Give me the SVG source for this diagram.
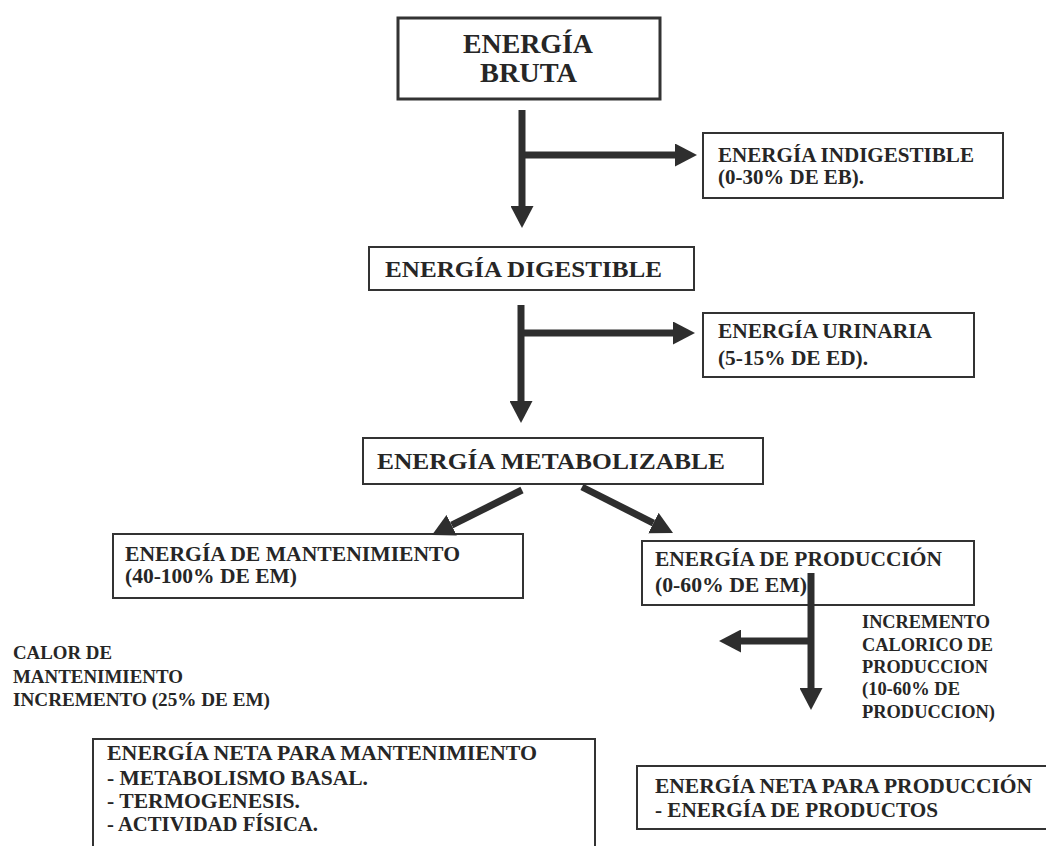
<svg xmlns="http://www.w3.org/2000/svg" width="1046" height="846" viewBox="0 0 1046 846">
<defs>
<style>
.box{fill:#fff;stroke:#333;stroke-width:2}
.tb{font-family:"Liberation Serif","DejaVu Serif","Times New Roman",serif;font-weight:bold;fill:#262626}
.t28{font-size:28px}
.t24{font-size:24px}
.t21{font-size:21px}
.t19{font-size:19px}
.conn line{stroke:#2e2e2e;stroke-width:7;fill:none}
</style>
<marker id="ah" markerUnits="userSpaceOnUse" viewBox="0 0 22 23" markerWidth="22" markerHeight="23" refX="0" refY="11.5" orient="auto">
<path d="M0,0 L22,11.5 L0,23 Z" fill="#2e2e2e"/>
</marker>
</defs>
<rect width="1046" height="846" fill="#ffffff"/>

<g id="energia-bruta" font-family="Liberation Serif, DejaVu Serif, serif">
<rect class="box" x="398" y="18" width="262" height="81" style="stroke-width:3"/>
<text class="tb t28" x="463" y="53" textLength="130" lengthAdjust="spacingAndGlyphs">ENERGÍA</text>
<text class="tb t28" x="480" y="82" textLength="97" lengthAdjust="spacingAndGlyphs">BRUTA</text>
</g>

<g id="energia-indigestible" font-family="Liberation Serif, DejaVu Serif, serif">
<rect class="box" x="703" y="133" width="300" height="65"/>
<text class="tb t21" x="718" y="162" textLength="256" lengthAdjust="spacingAndGlyphs">ENERGÍA INDIGESTIBLE</text>
<text class="tb t21" x="718" y="184" textLength="146" lengthAdjust="spacingAndGlyphs">(0-30% DE EB).</text>
</g>

<g id="energia-digestible" font-family="Liberation Serif, DejaVu Serif, serif">
<rect class="box" x="369" y="247" width="325" height="43"/>
<text class="tb t24" x="385" y="277" textLength="277" lengthAdjust="spacingAndGlyphs">ENERGÍA DIGESTIBLE</text>
</g>

<g id="energia-urinaria" font-family="Liberation Serif, DejaVu Serif, serif">
<rect class="box" x="703" y="313" width="271" height="64"/>
<text class="tb t21" x="718" y="338" textLength="214" lengthAdjust="spacingAndGlyphs">ENERGÍA URINARIA</text>
<text class="tb t21" x="718" y="365" textLength="150" lengthAdjust="spacingAndGlyphs">(5-15% DE ED).</text>
</g>

<g id="energia-metabolizable" font-family="Liberation Serif, DejaVu Serif, serif">
<rect class="box" x="363" y="438" width="400" height="46"/>
<text class="tb t24" x="377" y="469" textLength="348" lengthAdjust="spacingAndGlyphs">ENERGÍA METABOLIZABLE</text>
</g>

<g id="energia-mantenimiento" font-family="Liberation Serif, DejaVu Serif, serif">
<rect class="box" x="113" y="534" width="410" height="64"/>
<text class="tb t21" x="125" y="561" textLength="335" lengthAdjust="spacingAndGlyphs">ENERGÍA DE MANTENIMIENTO</text>
<text class="tb t21" x="125" y="583" textLength="172" lengthAdjust="spacingAndGlyphs">(40-100% DE EM)</text>
</g>

<g id="energia-produccion" font-family="Liberation Serif, DejaVu Serif, serif">
<rect class="box" x="642" y="541" width="332" height="64"/>
<text class="tb t21" x="655" y="566" textLength="287" lengthAdjust="spacingAndGlyphs">ENERGÍA DE PRODUCCIÓN</text>
<text class="tb t21" x="655" y="592" textLength="152" lengthAdjust="spacingAndGlyphs">(0-60% DE EM)</text>
</g>

<g id="calor-mantenimiento" font-family="Liberation Serif, DejaVu Serif, serif">
<text class="tb t19" x="13" y="659" textLength="99" lengthAdjust="spacingAndGlyphs">CALOR DE</text>
<text class="tb t19" x="13" y="683" textLength="170" lengthAdjust="spacingAndGlyphs">MANTENIMIENTO</text>
<text class="tb t19" x="13" y="706" textLength="257" lengthAdjust="spacingAndGlyphs">INCREMENTO (25% DE EM)</text>
</g>

<g id="incremento-produccion" font-family="Liberation Serif, DejaVu Serif, serif">
<text class="tb t19" x="862" y="628" textLength="128" lengthAdjust="spacingAndGlyphs">INCREMENTO</text>
<text class="tb t19" x="862" y="651" textLength="131" lengthAdjust="spacingAndGlyphs">CALORICO DE</text>
<text class="tb t19" x="862" y="673" textLength="126" lengthAdjust="spacingAndGlyphs">PRODUCCION</text>
<text class="tb t19" x="862" y="695" textLength="98" lengthAdjust="spacingAndGlyphs">(10-60% DE</text>
<text class="tb t19" x="862" y="718" textLength="133" lengthAdjust="spacingAndGlyphs">PRODUCCION)</text>
</g>

<g id="neta-mantenimiento" font-family="Liberation Serif, DejaVu Serif, serif">
<rect class="box" x="93" y="739" width="502" height="130"/>
<text class="tb t21" x="107" y="760" textLength="430" lengthAdjust="spacingAndGlyphs">ENERGÍA NETA PARA MANTENIMIENTO</text>
<text class="tb t21" x="107" y="785" textLength="261" lengthAdjust="spacingAndGlyphs">- METABOLISMO BASAL.</text>
<text class="tb t21" x="107" y="808" textLength="193" lengthAdjust="spacingAndGlyphs">- TERMOGENESIS.</text>
<text class="tb t21" x="107" y="831" textLength="211" lengthAdjust="spacingAndGlyphs">- ACTIVIDAD FÍSICA.</text>
</g>

<g id="neta-produccion" font-family="Liberation Serif, DejaVu Serif, serif">
<rect class="box" x="637" y="766" width="420" height="63"/>
<text class="tb t21" x="655" y="793" textLength="377" lengthAdjust="spacingAndGlyphs">ENERGÍA NETA PARA PRODUCCIÓN</text>
<text class="tb t21" x="655" y="817" textLength="283" lengthAdjust="spacingAndGlyphs">- ENERGÍA DE PRODUCTOS</text>
</g>

<g id="connectors" class="conn">
<line x1="522" y1="110" x2="522" y2="206" marker-end="url(#ah)"/>
<line x1="519" y1="155" x2="675" y2="155" marker-end="url(#ah)"/>
<line x1="521" y1="305" x2="521" y2="401" marker-end="url(#ah)"/>
<line x1="518" y1="333" x2="673" y2="333" marker-end="url(#ah)"/>
<line x1="522" y1="490" x2="451.7" y2="525.2" marker-end="url(#ah)"/>
<line x1="582" y1="487" x2="653.4" y2="523.1" marker-end="url(#ah)"/>
<line x1="811" y1="573" x2="811" y2="688" marker-end="url(#ah)"/>
<line x1="814" y1="641" x2="741" y2="641" marker-end="url(#ah)"/>
</g>
</svg>
